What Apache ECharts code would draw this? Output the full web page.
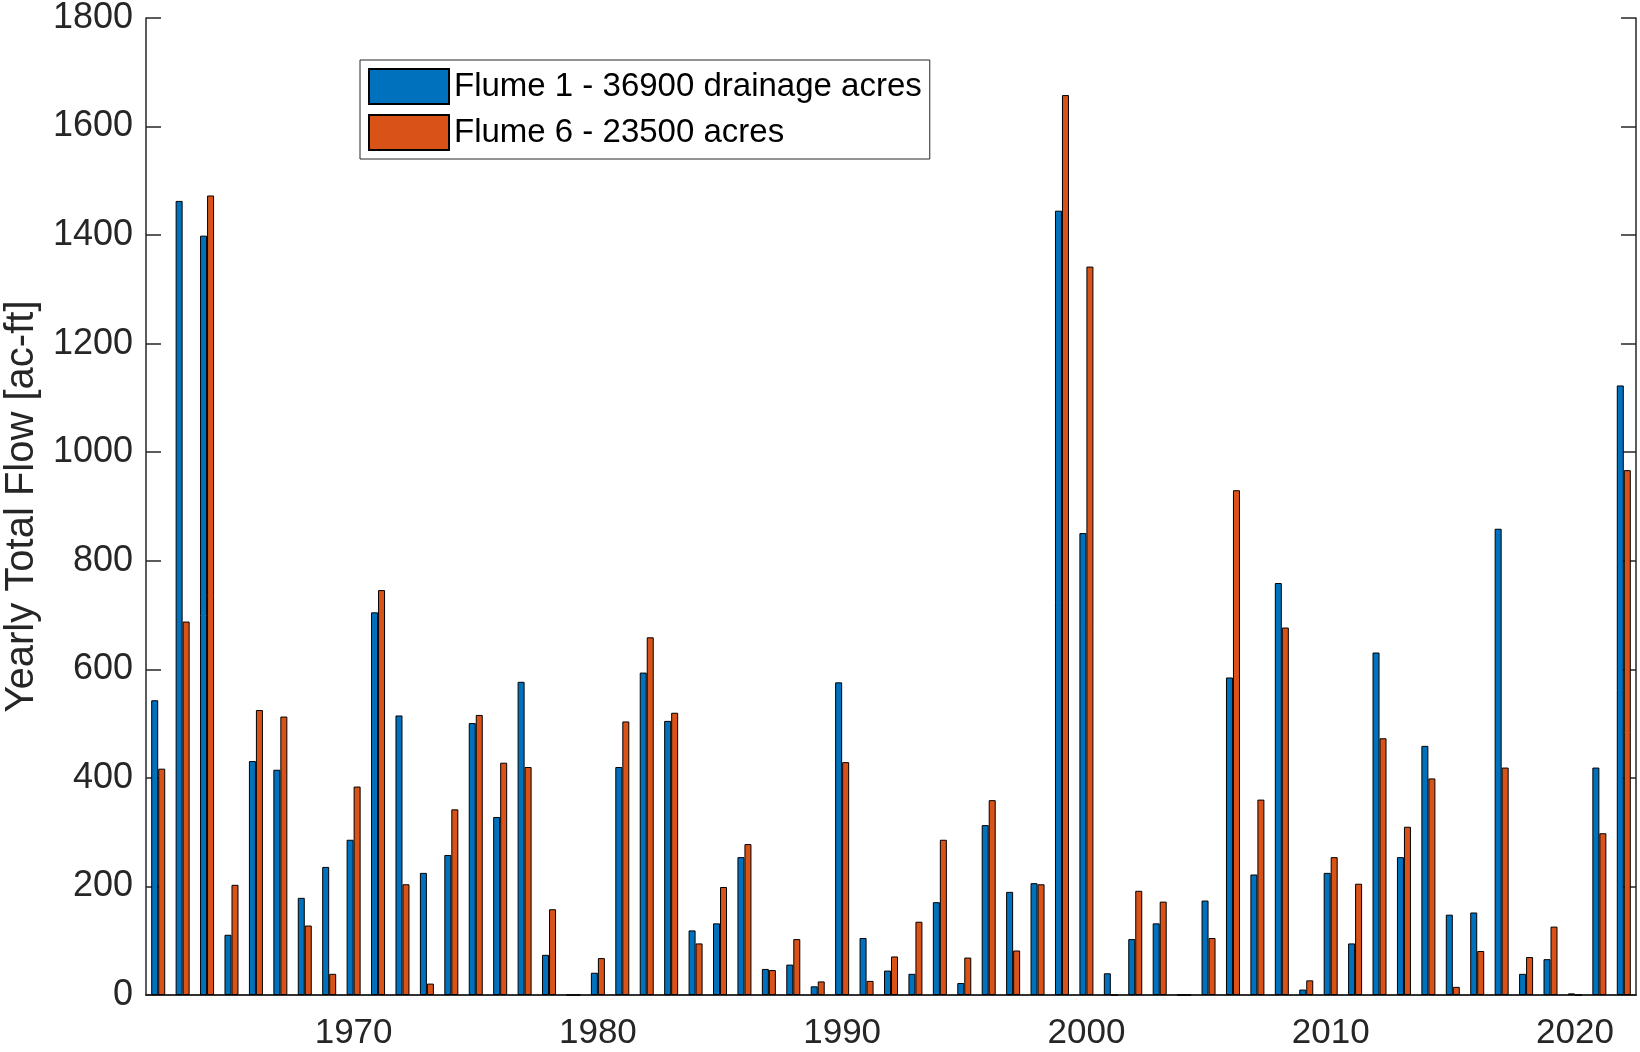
<!DOCTYPE html>
<html>
<head>
<meta charset="utf-8">
<title>Yearly Total Flow</title>
<script src="https://cdn.jsdelivr.net/npm/echarts@6/dist/echarts.min.js"></script>
<style>
	html, body { margin: 0; padding: 0; background: #fff; }
	#chart { width: 1640px; height: 1052px; }
</style>
</head>
<body>
<div id="chart"></div>
<script>
// 年份 (x轴类别)
let years = [
	'1962','1963','1964','1965','1966','1967','1968','1969','1970','1971',
	'1972','1973','1974','1975','1976','1977','1978','1979','1980','1981',
	'1982','1983','1984','1985','1986','1987','1988','1989','1990','1991',
	'1992','1993','1994','1995','1996','1997','1998','1999','2000','2001',
	'2002','2003','2004','2005','2006','2007','2008','2009','2010','2011',
	'2012','2013','2014','2015','2016','2017','2018','2019','2020','2021',
	'2022'
];

// Flume 1 年总流量 [ac-ft]
let flume1 = [
	543, 1463, 1399, 111, 431, 415, 179, 236, 286, 705,
	515, 225, 258, 501, 328, 577, 74, 0, 41, 420,
	594, 505, 119, 132, 254, 48, 56, 16, 576, 105,
	45, 39, 171, 22, 313, 190, 206, 1445, 851, 40,
	103, 132, 0, 174, 585, 222, 759, 10, 225, 95,
	631, 254, 459, 148, 152, 859, 39, 66, 3, 419,
	1123
];

// Flume 6 年总流量 [ac-ft]
let flume6 = [
	417, 688, 1473, 203, 525, 513, 128, 39, 384, 746,
	204, 21, 342, 516, 428, 420, 158, 0, 68, 504,
	659, 520, 95, 199, 278, 46, 103, 25, 429, 26,
	71, 135, 286, 69, 359, 82, 204, 1658, 1342, 0,
	192, 172, 0, 105, 930, 360, 677, 27, 254, 205,
	473, 310, 399, 15, 81, 419, 70, 126, 0, 298,
	967
];

// y轴刻度
let yMin = 0;
let yMax = 1800;
let yStep = 200;

let seriesNames = ['Flume 1 - 36900 drainage acres', 'Flume 6 - 23500 acres'];

let axisColor = '#262626';
let fontFamily = '"Liberation Sans", Arial, Helvetica, sans-serif';

// 只显示整十年的刻度
function decade(index, value) {
	return Number(value) % 10 === 0;
}

let myChart = echarts.init(document.getElementById('chart'));

myChart.setOption({
	animation: false,
	textStyle: { fontFamily: fontFamily },
	grid: {
		left: 146,
		right: 4,
		top: 18,
		bottom: 57,
		outerBoundsMode: 'none',
		containLabel: false
	},
	legend: {
		orient: 'vertical',
		left: 360,
		top: 60,
		padding: [8, 8, 8, 8],
		itemWidth: 80,
		itemHeight: 35,
		itemGap: 9,
		borderColor: axisColor,
		borderWidth: 1,
		borderRadius: 0,
		backgroundColor: '#fff',
		icon: 'rect',
		textStyle: {
			fontSize: 33,
			color: '#000',
			fontFamily: fontFamily
		},
		data: seriesNames
	},
	xAxis: [
		{
			type: 'category',
			data: years,
			axisLine: { lineStyle: { color: axisColor, width: 1.5 } },
			axisTick: {
				inside: true,
				length: 15,
				alignWithLabel: true,
				interval: decade,
				lineStyle: { color: axisColor, width: 1.5 }
			},
			axisLabel: {
				interval: decade,
				fontSize: 35,
				color: axisColor,
				margin: 21
			}
		},
		{
			// 上边框
			type: 'category',
			position: 'top',
			data: years,
			axisLine: { lineStyle: { color: axisColor, width: 1.5 } },
			axisTick: {
				inside: true,
				length: 15,
				alignWithLabel: true,
				interval: decade,
				lineStyle: { color: axisColor, width: 1.5 }
			},
			axisLabel: { show: false }
		}
	],
	yAxis: [
		{
			type: 'value',
			min: yMin,
			max: yMax,
			interval: yStep,
			name: 'Yearly Total Flow [ac-ft]',
			nameLocation: 'middle',
			nameGap: 103,
			nameTextStyle: {
				fontSize: 40,
				color: axisColor,
				fontFamily: fontFamily
			},
			splitLine: { show: false },
			axisLine: { show: true, lineStyle: { color: axisColor, width: 1.5 } },
			axisTick: {
				show: true,
				inside: true,
				length: 15,
				lineStyle: { color: axisColor, width: 1.5 }
			},
			axisLabel: {
				fontSize: 36,
				color: axisColor,
				margin: 13,
				formatter: function (v) { return String(v); }
			}
		},
		{
			// 右边框
			type: 'value',
			position: 'right',
			min: yMin,
			max: yMax,
			interval: yStep,
			splitLine: { show: false },
			axisLine: { show: true, lineStyle: { color: axisColor, width: 1.5 } },
			axisTick: {
				show: true,
				inside: true,
				length: 15,
				lineStyle: { color: axisColor, width: 1.5 }
			},
			axisLabel: { show: false }
		}
	],
	series: [
		{
			name: seriesNames[0],
			type: 'bar',
			xAxisIndex: 0,
			yAxisIndex: 0,
			barWidth: 7,
			barGap: '0%',
			itemStyle: {
				color: '#0072BD',
				borderColor: '#000',
				borderWidth: 1
			},
			data: flume1
		},
		{
			name: seriesNames[1],
			type: 'bar',
			xAxisIndex: 0,
			yAxisIndex: 0,
			barWidth: 7,
			barGap: '0%',
			itemStyle: {
				color: '#D95319',
				borderColor: '#000',
				borderWidth: 1
			},
			data: flume6
		}
	]
});
</script>
</body>
</html>
